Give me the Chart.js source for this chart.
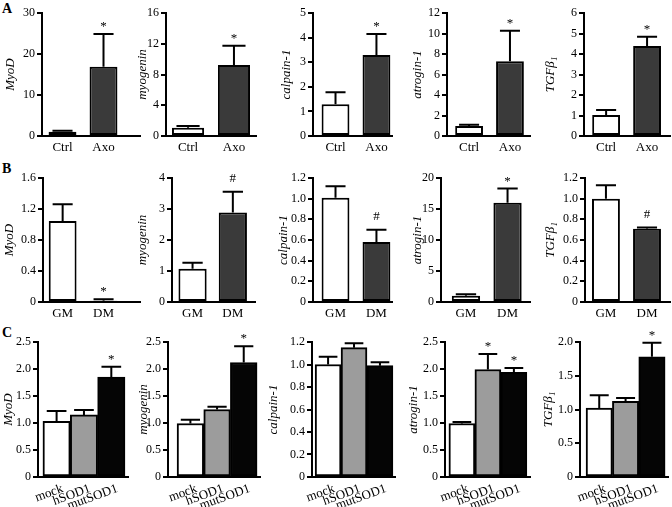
<!DOCTYPE html>
<html>
<head>
<meta charset="utf-8">
<script src="https://cdn.jsdelivr.net/npm/chart.js@4/dist/chart.umd.min.js"></script>
<style>
  body { margin: 0; background: #fff; }
  #fig { position: relative; width: 672px; height: 507px; background: #fff; overflow: hidden; }
  #fig canvas { position: absolute; }
  .lab { position: absolute; font: bold 14px "Liberation Serif", "Times New Roman", serif; color: #000; }
</style>
</head>
<body>
<div id="fig">
  <div class="lab" style="left:2px;top:1px">A</div>
  <div class="lab" style="left:2px;top:161px">B</div>
  <div class="lab" style="left:2px;top:325px">C</div>
</div>
<script>
// groups on the x axis
const groupsA = ['Ctrl', 'Axo'];
const groupsB = ['GM', 'DM'];
const groupsC = ['mock', 'hSOD1', 'mutSOD1'];
const genes = ['MyoD', 'myogenin', 'calpain-1', 'atrogin-1', 'TGFβ₁'];

// A: Ctrl vs Axo
const meanA = [[1.05, 16.9], [1.08, 9.23], [1.29, 3.29], [0.98, 7.3], [1.02, 4.39]];
const semA  = [[0.25, 8.0], [0.22, 2.51], [0.49, 0.86], [0.12, 2.97], [0.25, 0.45]];
const markA = [['', '*'], ['', '*'], ['', '*'], ['', '*'], ['', '*']];
const ticksA = [
  ['0', '10', '20', '30'],
  ['0', '4', '8', '12', '16'],
  ['0', '1', '2', '3', '4', '5'],
  ['0', '2', '4', '6', '8', '10', '12'],
  ['0', '1', '2', '3', '4', '5', '6']
];

// B: GM vs DM
const meanB = [[1.045, 0.015], [1.07, 2.89], [1.01, 0.58], [1.02, 16.0], [1.0, 0.71]];
const semB  = [[0.215, 0.02], [0.2, 0.67], [0.11, 0.12], [0.22, 2.3], [0.13, 0.01]];
const markB = [['', '*'], ['', '#'], ['', '#'], ['', '*'], ['', '#']];
const ticksB = [
  ['0', '0.4', '0.8', '1.2', '1.6'],
  ['0', '1', '2', '3', '4'],
  ['0', '0.2', '0.4', '0.6', '0.8', '1.0', '1.2'],
  ['0', '5', '10', '15', '20'],
  ['0', '0.2', '0.4', '0.6', '0.8', '1.0', '1.2']
];

// C: mock / hSOD1 / mutSOD1
const meanC = [[1.03, 1.15, 1.85], [0.99, 1.25, 2.12], [1.0, 1.15, 0.99], [0.99, 1.99, 1.94], [1.02, 1.12, 1.78]];
const semC  = [[0.19, 0.09, 0.19], [0.07, 0.05, 0.3], [0.07, 0.04, 0.03], [0.03, 0.29, 0.08], [0.19, 0.05, 0.21]];
const markC = [['', '', '*'], ['', '', '*'], ['', '', ''], ['', '*', '*'], ['', '', '*']];
const ticksC = [
  ['0', '0.5', '1.0', '1.5', '2.0', '2.5'],
  ['0', '0.5', '1.0', '1.5', '2.0', '2.5'],
  ['0', '0.2', '0.4', '0.6', '0.8', '1.0', '1.2'],
  ['0', '0.5', '1.0', '1.5', '2.0', '2.5'],
  ['0', '0.5', '1.0', '1.5', '2.0']
];

const colorsAB = ['#ffffff', '#3a3a3a'];
const colorsC = ['#ffffff', '#9c9c9c', '#050505'];

// panel placement (pixels) and x range
const rows = [
  { top: 13, bot: 136, xh: 30 },
  { top: 178, bot: 302, xh: 30 },
  { top: 342, bot: 477, xh: 30 }
];
const geo = [
  [
    { ax: 42, yw: 38, lr: 140, xMin: 0.5, xMax: 2.89, bp: 0.68 },
    { ax: 166, yw: 30, lr: 256, xMin: 0.52, xMax: 2.48, bp: 0.7 },
    { ax: 313, yw: 33, lr: 392, xMin: 0.45, xMax: 2.38, bp: 0.68 },
    { ax: 447, yw: 36, lr: 530, xMin: 0.46, xMax: 2.49, bp: 0.68 },
    { ax: 584, yw: 40, lr: 670, xMin: 0.46, xMax: 2.56, bp: 0.68 }
  ],
  [
    { ax: 43, yw: 40, lr: 140, xMin: 0.52, xMax: 2.89, bp: 0.68 },
    { ax: 172, yw: 36, lr: 255, xMin: 0.49, xMax: 2.55, bp: 0.7 },
    { ax: 313, yw: 36, lr: 392, xMin: 0.45, xMax: 2.38, bp: 0.68 },
    { ax: 441, yw: 30, lr: 530, xMin: 0.4, xMax: 2.54, bp: 0.68 },
    { ax: 585, yw: 41, lr: 670, xMin: 0.49, xMax: 2.56, bp: 0.68 }
  ],
  [
    { ax: 38, yw: 36, lr: 128, xMin: 0.32, xMax: 3.61, bp: 1 },
    { ax: 168, yw: 31, lr: 260, xMin: 0.16, xMax: 3.61, bp: 1 },
    { ax: 312, yw: 45, lr: 395, xMin: 0.38, xMax: 3.58, bp: 1 },
    { ax: 445, yw: 38, lr: 530, xMin: 0.35, xMax: 3.62, bp: 1 },
    { ax: 580, yw: 38, lr: 668, xMin: 0.27, xMax: 3.61, bp: 1 }
  ]
];

Chart.defaults.font.family = '"Liberation Serif", "Times New Roman", serif';
Chart.defaults.font.size = 13;
Chart.defaults.color = '#000';
Chart.defaults.animation = false;

const PAD_TOP = 14;

// error bars (upper half only) and significance marks
function errorBars(mean, sem, mark) {
  return {
    id: 'errbars',
    afterDatasetsDraw(chart) {
      const ctx = chart.ctx;
      const ys = chart.scales.y;
      const meta = chart.getDatasetMeta(0);
      ctx.save();
      ctx.strokeStyle = '#000';
      ctx.fillStyle = '#000';
      ctx.lineWidth = 2;
      ctx.textAlign = 'center';
      ctx.textBaseline = 'alphabetic';
      meta.data.forEach((bar, i) => {
        const top = ys.getPixelForValue(mean[i] + sem[i]);
        const half = bar.width * 0.36;
        ctx.beginPath();
        ctx.moveTo(bar.x, bar.y);
        ctx.lineTo(bar.x, top);
        ctx.moveTo(bar.x - half, top);
        ctx.lineTo(bar.x + half, top);
        ctx.stroke();
        const m = mark[i];
        if (m === '#') {
          ctx.font = '13px "Liberation Serif", serif';
          ctx.fillText(m, bar.x, top - 10);
        } else if (m) {
          ctx.font = '13px "Liberation Serif", serif';
          ctx.fillText(m, bar.x, top - 4);
        }
      });
      ctx.restore();
    }
  };
}

function panel(row, col, groups, mean, sem, mark, tickLabels, colors) {
  const r = rows[row];
  const g = geo[row][col];
  const left = g.ax - g.yw;
  const top = r.top - PAD_TOP;
  const w = g.lr + 2 - left;
  const h = r.bot - r.top + PAD_TOP + r.xh;

  const cv = document.createElement('canvas');
  cv.width = w;
  cv.height = h;
  cv.style.left = left + 'px';
  cv.style.top = top + 'px';
  cv.style.width = w + 'px';
  cv.style.height = h + 'px';
  document.getElementById('fig').appendChild(cv);

  const tickVals = tickLabels.map(Number);
  const rotated = groups.length > 2;

  new Chart(cv.getContext('2d'), {
    type: 'bar',
    data: {
      datasets: [{
        data: mean.map((v, i) => ({ x: i + 1, y: v })),
        backgroundColor: colors,
        borderColor: '#000',
        borderWidth: 2,
        borderSkipped: false,
        barPercentage: g.bp,
        categoryPercentage: 1
      }]
    },
    options: {
      responsive: false,
      devicePixelRatio: 1,
      layout: { padding: { top: PAD_TOP, right: 2, left: 0, bottom: 0 } },
      plugins: { legend: { display: false }, tooltip: { enabled: false } },
      scales: {
        x: {
          type: 'linear',
          offset: false,
          min: g.xMin,
          max: g.xMax,
          afterBuildTicks: s => { s.ticks = groups.map((_, i) => ({ value: i + 1 })); },
          afterFit: s => { s.height = r.xh; },
          grid: { display: false, drawTicks: false, offset: false },
          border: { display: true, color: '#000', width: 2 },
          ticks: {
            callback: (v, i) => groups[i],
            padding: 4,
            minRotation: rotated ? 20 : 0,
            maxRotation: rotated ? 20 : 0,
            labelOffset: rotated ? 6 : 0,
            autoSkip: false
          }
        },
        y: {
          min: 0,
          max: tickVals[tickVals.length - 1],
          afterBuildTicks: s => { s.ticks = tickVals.map(v => ({ value: v })); },
          afterFit: s => { s.width = g.yw; },
          grid: {
            display: true,
            drawOnChartArea: false,
            drawTicks: true,
            tickLength: 5,
            color: '#000',
            lineWidth: 2
          },
          border: { display: true, color: '#000', width: 2 },
          ticks: { callback: (v, i) => tickLabels[i], padding: 2, font: { size: 12 } },
          title: {
            display: true,
            text: genes[col],
            padding: 0,
            font: { style: 'italic', size: 13, lineHeight: 1 }
          }
        }
      }
    },
    plugins: [errorBars(mean, sem, mark)]
  });
}

for (let c = 0; c < 5; c++) {
  panel(0, c, groupsA, meanA[c], semA[c], markA[c], ticksA[c], colorsAB);
  panel(1, c, groupsB, meanB[c], semB[c], markB[c], ticksB[c], colorsAB);
  panel(2, c, groupsC, meanC[c], semC[c], markC[c], ticksC[c], colorsC);
}
</script>
</body>
</html>
